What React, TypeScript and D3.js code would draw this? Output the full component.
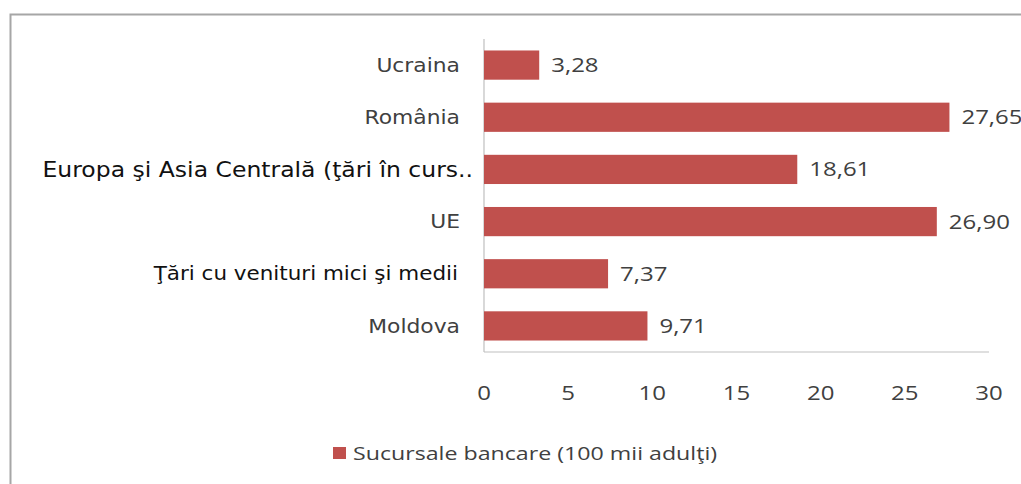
import React from "react";
import * as d3 from "d3";

const categories = [
  "Ucraina",
  "România",
  "Europa şi Asia Centrală (ţări în curs..",
  "UE",
  "Ţări cu venituri mici şi medii",
  "Moldova",
];
const values = [3.28, 27.65, 18.61, 26.9, 7.37, 9.71];
const boldCats = [false, false, true, false, true, false];
const xTicks = [0, 5, 10, 15, 20, 25, 30];
const legendLabel = "Sucursale bancare (100 mii adulţi)";

const W = 1021;
const H = 484;

function SText(props: {
  x: number;
  y: number;
  sx: number;
  size: number;
  family: string;
  fill: string;
  anchor?: string;
  children: React.ReactNode;
}) {
  return (
    <text
      transform={`translate(${props.x},${props.y}) scale(${props.sx},1)`}
      dy="0.35em"
      textAnchor={props.anchor || "start"}
      fontFamily={props.family}
      fontSize={props.size}
      fill={props.fill}
    >
      {props.children}
    </text>
  );
}

export default function App() {
  const x = d3.scaleLinear().domain([0, 30]).range([484, 989]);
  const y = d3
    .scaleBand<string>()
    .domain(categories)
    .range([39, 352])
    .paddingInner(0.44)
    .paddingOuter(0.22);
  const fmt = (v: number) => v.toFixed(2).replace(".", ",");
  const barColor = "#C0504D";
  const textColor = "#404040";
  const numFont = "'Open Sans', sans-serif";
  const catFont = "'DejaVu Sans', sans-serif";
  return (
    <svg
      width={W}
      height={H}
      style={{ position: "absolute", left: 0, top: 0, background: "#fff" }}
    >
      <rect x={0} y={0} width={W} height={H} fill="#fff" />
      <path d={`M10.5,${H} L10.5,14.5 L${W},14.5`} fill="none" stroke="#a6a6a6" strokeWidth={2} />
      <line x1={x(0)} x2={x(0)} y1={39} y2={352} stroke="#bfbfbf" strokeWidth={1.2} />
      <line x1={x(0)} x2={x(30)} y1={352} y2={352} stroke="#bfbfbf" strokeWidth={1.2} />
      {categories.map((c, i) => {
        const cy = y(c)! + y.bandwidth() / 2;
        return (
          <g key={c}>
            <rect
              x={x(0)}
              y={y(c)!}
              width={x(values[i]) - x(0)}
              height={y.bandwidth()}
              fill={barColor}
            />
            <SText x={x(values[i]) + 12} y={cy} sx={1.2} size={20} family={numFont} fill={textColor}>
              {fmt(values[i])}
            </SText>
            {boldCats[i] ? (
              <SText
                x={i === 2 ? 473 : 458}
                y={cy}
                sx={i === 2 ? 1.12 : 1.13}
                size={i === 2 ? 21 : 19}
                family={catFont}
                fill="#111"
                anchor="end"
              >
                {c}
              </SText>
            ) : (
              <SText x={460} y={cy} sx={1.12} size={19.5} family={catFont} fill={textColor} anchor="end">
                {c}
              </SText>
            )}
          </g>
        );
      })}
      {xTicks.map((t) => (
        <SText key={t} x={x(t)} y={393} sx={1.2} size={20} family={numFont} fill={textColor} anchor="middle">
          {t}
        </SText>
      ))}
      <rect x={333} y={447} width={13} height={12} fill={barColor} />
      <SText x={353} y={453} sx={1.22} size={19} family={numFont} fill={textColor}>
        {legendLabel}
      </SText>
    </svg>
  );
}
